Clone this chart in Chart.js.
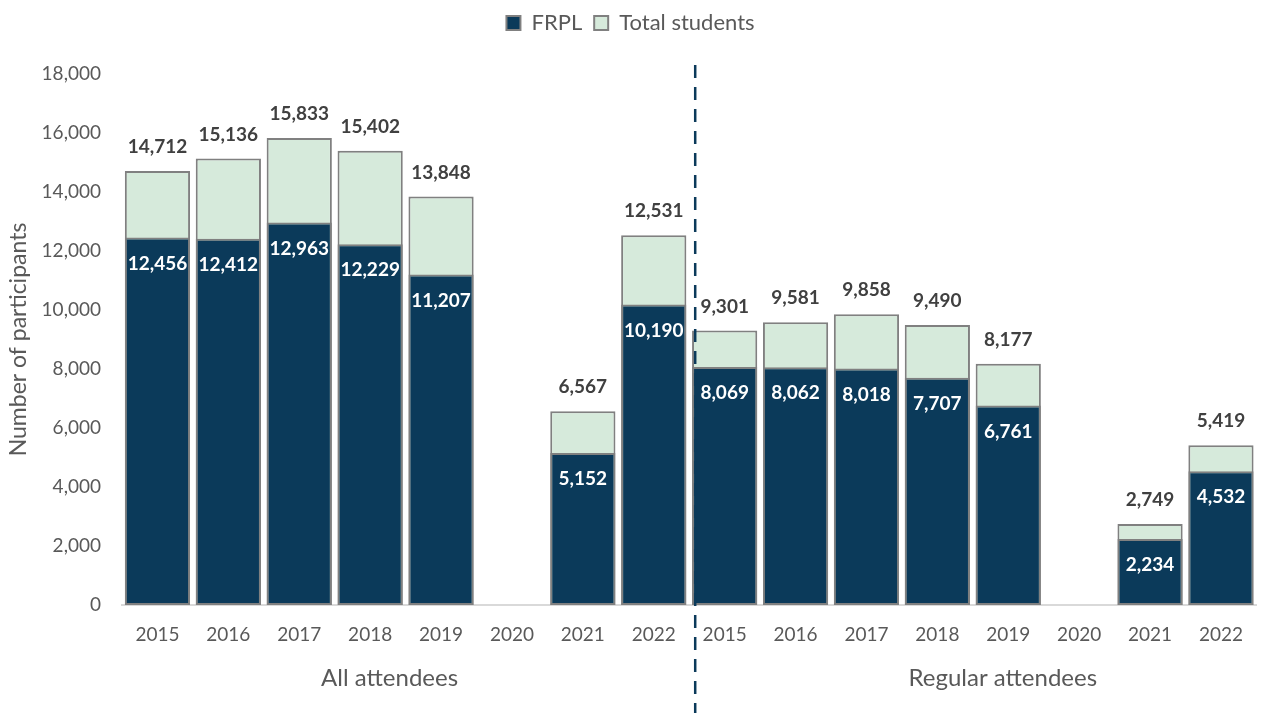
<!DOCTYPE html>
<html>
<head>
<meta charset="utf-8">
<script src="https://cdn.jsdelivr.net/npm/chart.js@4/dist/chart.umd.min.js"></script>
<style>
  html, body { margin: 0; padding: 0; background: #fff; }
  #wrap { width: 1261px; height: 713px; position: relative; }
</style>
</head>
<body>
<div id="wrap"><canvas id="chart"></canvas></div>
<script>
"use strict";

const years = ["2015", "2016", "2017", "2018", "2019", "2020", "2021", "2022",
               "2015", "2016", "2017", "2018", "2019", "2020", "2021", "2022"];
const groups = ["All attendees", "Regular attendees"];
const frpl = [12456, 12412, 12963, 12229, 11207, null, 5152, 10190,
              8069, 8062, 8018, 7707, 6761, null, 2234, 4532];
const totals = [14712, 15136, 15833, 15402, 13848, null, 6567, 12531,
                9301, 9581, 9858, 9490, 8177, null, 2749, 5419];
const yTicks = [0, 2000, 4000, 6000, 8000, 10000, 12000, 14000, 16000, 18000];

const FONT = "Lato, 'Open Sans', sans-serif";
const NAVY = "#0b3a5a";
const MINT = "#d6eadb";
const GREY_TEXT = "#595959";
const fmt = (v) => v.toLocaleString("en-US");

// extra room between the legend and the plot
const legendGap = {
  id: "legendGap",
  beforeInit(chart) {
    const fit = chart.legend.fit;
    chart.legend.fit = function () {
      fit.call(this);
      this.height += 30;
    };
  },
};

// value labels, group captions and the divider between the two groups
const annotate = {
  id: "annotate",
  afterDatasetsDraw(chart) {
    const { ctx } = chart;
    ctx.save();
    ctx.textAlign = "center";
    ctx.textBaseline = "middle";
    ctx.font = "bold 19px " + FONT;

    chart.getDatasetMeta(1).data.forEach((bar, i) => {
      if (totals[i] == null) return;
      ctx.fillStyle = "#404040";
      ctx.fillText(fmt(totals[i]), bar.x, bar.y - 24);
    });
    chart.getDatasetMeta(0).data.forEach((bar, i) => {
      if (frpl[i] == null) return;
      ctx.fillStyle = "#ffffff";
      ctx.fillText(fmt(frpl[i]), bar.x, bar.y + 26);
    });
    ctx.restore();
  },
  afterDraw(chart) {
    const { ctx } = chart;
    const x = chart.scales.x;
    const h = chart.height;
    const split = (x.getPixelForValue(7) + x.getPixelForValue(8)) / 2 + 6;

    ctx.save();
    ctx.strokeStyle = NAVY;
    ctx.lineWidth = 2.5;
    ctx.setLineDash([13, 9]);
    ctx.beginPath();
    ctx.moveTo(split, 65);
    ctx.lineTo(split, h);
    ctx.stroke();
    ctx.setLineDash([]);

    ctx.fillStyle = GREY_TEXT;
    ctx.font = "24px " + FONT;
    ctx.textAlign = "center";
    ctx.textBaseline = "middle";
    const mid0 = (x.getPixelForValue(0) + x.getPixelForValue(7)) / 2 - 16;
    const mid1 = (x.getPixelForValue(8) + x.getPixelForValue(15)) / 2 + 30;
    ctx.fillText(groups[0], mid0, 678);
    ctx.fillText(groups[1], mid1, 678);
    ctx.restore();
  },
};

new Chart(document.getElementById("chart"), {
  type: "bar",
  data: {
    labels: years,
    datasets: [
      {
        label: "FRPL",
        data: frpl,
        backgroundColor: NAVY,
        borderColor: "#808080",
        borderWidth: 2,
        borderSkipped: false,
        order: 0,
      },
      {
        label: "Total students",
        data: totals,
        backgroundColor: MINT,
        borderColor: "#808080",
        borderWidth: 2,
        borderSkipped: false,
        order: 1,
      },
    ],
  },
  options: {
    responsive: true,
    maintainAspectRatio: false,
    animation: false,
    layout: { padding: { left: 0, right: 0, top: 0, bottom: 0 } },
    datasets: { bar: { barPercentage: 0.92, categoryPercentage: 1 } },
    scales: {
      x: {
        stacked: true,
        grid: { display: false, drawTicks: false },
        border: { color: "#d9d9d9", width: 2 },
        ticks: { color: GREY_TEXT, font: { family: FONT, size: 19 }, padding: 18, maxRotation: 0, autoSkip: false },
        afterFit: (s) => { s.height = 108; },
      },
      y: {
        stacked: false,
        min: 0,
        max: 18000,
        afterBuildTicks: (s) => { s.ticks = yTicks.map((v) => ({ value: v })); },
        afterFit: (s) => { s.width = 122; },
        grid: { display: false, drawTicks: false },
        border: { display: false },
        ticks: { color: GREY_TEXT, font: { family: FONT, size: 19 }, padding: 21, callback: (v) => fmt(v) },
        title: { display: true, text: "Number of participants", color: GREY_TEXT, font: { family: FONT, size: 23 }, padding: { top: 5, bottom: 4 } },
      },
    },
    plugins: {
      legend: {
        position: "top",
        labels: {
          color: GREY_TEXT,
          font: { family: FONT, size: 22 },
          boxWidth: 14,
          boxHeight: 14,
          padding: 12,
        },
      },
      tooltip: { enabled: false },
    },
  },
  plugins: [legendGap, annotate],
});
</script>
</body>
</html>
